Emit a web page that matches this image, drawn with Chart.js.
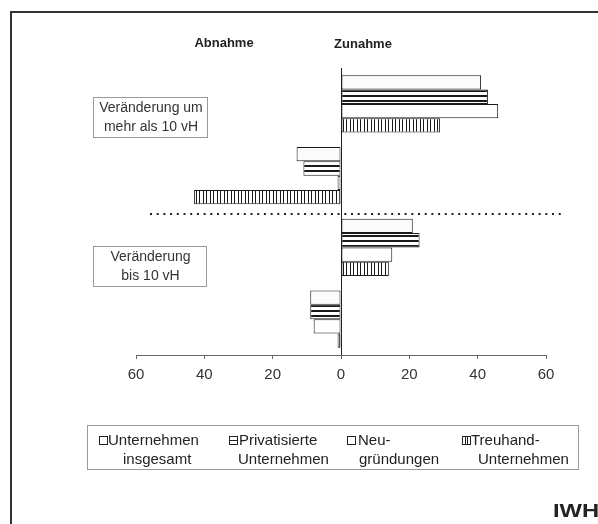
<!DOCTYPE html>
<html>
<head>
<meta charset="utf-8">
<script src="https://cdn.jsdelivr.net/npm/chart.js@4/dist/chart.umd.min.js"></script>
<style>
  html, body { margin: 0; padding: 0; background: #fff; }
  #wrap { width: 598px; height: 524px; position: relative; }
</style>
</head>
<body>
<div id="wrap"><canvas id="myChart"></canvas></div>
<script>
// categories: increase / decrease for the two change classes
const categories = ["mehr als 10 vH Zunahme", "mehr als 10 vH Abnahme", "bis 10 vH Zunahme", "bis 10 vH Abnahme"];
const unternehmenInsgesamt = [41, -13, 21, -9];
const privatisierte = [43, -11, 23, -9];
const neugruendungen = [46, -1, 15, -8];
const treuhand = [29, -43, 14, -1];
const tickValues = [-60, -40, -20, 0, 20, 40, 60];
const legendLabels = [
    ["Unternehmen", "insgesamt"],
    ["Privatisierte", "Unternehmen"],
    ["Neu-", "gründungen"],
    ["Treuhand-", "Unternehmen"]
];

const FONT = "'Liberation Sans', Arial, sans-serif";

const makePattern = (w, h, draw) => {
    const c = document.createElement("canvas");
    c.width = w;
    c.height = h;
    const g = c.getContext("2d");
    g.fillStyle = "#fff";
    g.fillRect(0, 0, w, h);
    g.fillStyle = "#1a1a1a";
    draw(g);
    return document.getElementById("myChart").getContext("2d").createPattern(c, "repeat");
};

const hStripes = makePattern(5, 5, g => g.fillRect(0, 0, 5, 2));
const vStripes = makePattern(7, 7, g => { g.fillRect(0, 0, 1, 7); g.fillRect(3, 0, 1, 7); });

const overlay = {
    id: "overlay",
    afterDraw(chart) {
        const ctx = chart.ctx;
        ctx.save();

        // outer frame
        ctx.strokeStyle = "#333";
        ctx.lineWidth = 2;
        ctx.strokeRect(11, 12, 620, 560);

        // headers
        ctx.fillStyle = "#222";
        ctx.font = "bold 13px " + FONT;
        ctx.textAlign = "center";
        ctx.textBaseline = "middle";
        ctx.fillText("Abnahme", 224, 43);
        ctx.fillText("Zunahme", 363, 44);

        // group boxes
        const boxes = [
            {x: 93, y: 97, w: 114, h: 40, lines: ["Veränderung um", "mehr als 10 vH"]},
            {x: 93, y: 246, w: 113, h: 40, lines: ["Veränderung", "bis 10 vH"]}
        ];
        ctx.font = "14px " + FONT;
        boxes.forEach(b => {
            ctx.strokeStyle = "#999";
            ctx.lineWidth = 1;
            ctx.strokeRect(b.x + 0.5, b.y + 0.5, b.w, b.h);
            ctx.fillStyle = "#333";
            ctx.fillText(b.lines[0], b.x + b.w / 2 + 1, b.y + 11);
            ctx.fillText(b.lines[1], b.x + b.w / 2 + 1, b.y + 30);
        });

        // dotted separator
        ctx.strokeStyle = "#222";
        ctx.lineWidth = 2;
        ctx.setLineDash([2, 4.7]);
        ctx.beginPath();
        ctx.moveTo(150, 214);
        ctx.lineTo(565, 214);
        ctx.stroke();
        ctx.setLineDash([]);

        // legend
        ctx.strokeStyle = "#999";
        ctx.lineWidth = 1;
        ctx.strokeRect(87.5, 425.5, 491, 44);
        const symX = [99, 229, 347, 462];
        const line1X = [108, 239, 358, 471];
        const line2X = [123, 238, 359, 478];
        ctx.font = "15px " + FONT;
        ctx.textAlign = "left";
        legendLabels.forEach((lab, i) => {
            const sx = symX[i] + 0.5, sy = 436.5;
            ctx.strokeStyle = "#222";
            ctx.lineWidth = 1;
            ctx.fillStyle = "#fff";
            ctx.fillRect(sx, sy, 8, 8);
            ctx.strokeRect(sx, sy, 8, 8);
            if (i === 1) {
                ctx.beginPath();
                ctx.moveTo(sx, sy + 4);
                ctx.lineTo(sx + 8, sy + 4);
                ctx.stroke();
            }
            if (i === 3) {
                ctx.beginPath();
                ctx.moveTo(sx + 3, sy);
                ctx.lineTo(sx + 3, sy + 8);
                ctx.moveTo(sx + 5, sy);
                ctx.lineTo(sx + 5, sy + 8);
                ctx.stroke();
            }
            ctx.fillStyle = "#222";
            ctx.textBaseline = "middle";
            ctx.fillText(lab[0], line1X[i], 441);
            ctx.fillText(lab[1], line2X[i], 460);
        });

        // IWH mark, wide lettering running off the right edge
        ctx.font = "bold 19px " + FONT;
        ctx.textBaseline = "alphabetic";
        ctx.fillStyle = "#222";
        ctx.translate(553, 517);
        ctx.scale(1.25, 1);
        ctx.fillText("IWH", 0, 0);

        ctx.restore();
    }
};

const barStyle = {
    borderColor: "#1a1a1a",
    borderWidth: 1,
    borderSkipped: false,
    categoryPercentage: 0.8,
    barPercentage: 1.0
};

new Chart(document.getElementById("myChart").getContext("2d"), {
    type: "bar",
    data: {
        labels: categories,
        datasets: [
            {label: "Unternehmen insgesamt", data: unternehmenInsgesamt, backgroundColor: "#fbfbfb", ...barStyle},
            {label: "Privatisierte Unternehmen", data: privatisierte, backgroundColor: hStripes, ...barStyle},
            {label: "Neugründungen", data: neugruendungen, backgroundColor: "#ffffff", ...barStyle},
            {label: "Treuhand-Unternehmen", data: treuhand, backgroundColor: vStripes, ...barStyle}
        ]
    },
    options: {
        indexAxis: "y",
        responsive: true,
        maintainAspectRatio: false,
        animation: false,
        layout: {
            padding: {left: 136, right: 52, top: 68, bottom: 133}
        },
        plugins: {
            legend: {display: false},
            tooltip: {enabled: false}
        },
        scales: {
            y: {
                display: false,
                offset: true
            },
            x: {
                min: -60,
                max: 60,
                afterBuildTicks: axis => {
                    axis.ticks = tickValues.map(v => ({value: v}));
                },
                ticks: {
                    color: "#333",
                    font: {family: FONT, size: 15},
                    padding: 7,
                    callback: v => String(Math.abs(v))
                },
                grid: {
                    color: c => (c.tick && c.tick.value === 0) ? "#222" : "rgba(0,0,0,0)",
                    tickColor: "#666",
                    tickLength: 4,
                    drawOnChartArea: true
                },
                border: {display: true, color: "#666", width: 1}
            }
        }
    },
    plugins: [overlay]
});
</script>
</body>
</html>
